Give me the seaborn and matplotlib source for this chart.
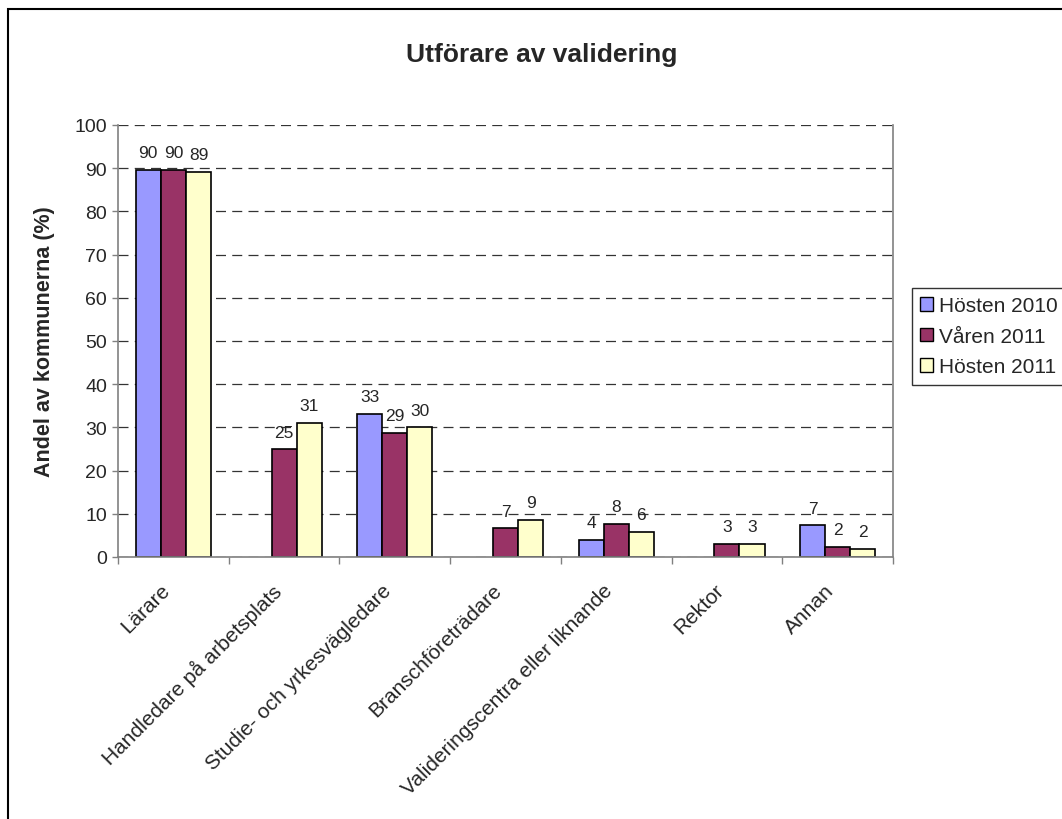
import numpy as np
import pandas as pd
import seaborn as sns
import matplotlib.pyplot as plt
import matplotlib.transforms as mtransforms
from matplotlib.patches import Rectangle

categories = ["Lärare", "Handledare på arbetsplats", "Studie- och yrkesvägledare",
              "Branschföreträdare", "Valideringscentra eller liknande", "Rektor", "Annan"]
series = ["Hösten 2010", "Våren 2011", "Hösten 2011"]
hosten_2010 = [89.6, np.nan, 33.1, np.nan, 3.9, np.nan, 7.3]
varen_2011 = [89.6, 24.9, 28.8, 6.6, 7.7, 3.1, 2.3]
hosten_2011 = [89.2, 31.1, 30.0, 8.6, 5.8, 3.1, 1.9]
colors = ["#9999FF", "#993366", "#FFFFCC"]

df = pd.DataFrame({
    "kategori": categories * 3,
    "serie": [s for s in series for _ in categories],
    "andel": hosten_2010 + varen_2011 + hosten_2011,
})

sns.set_style("white")
plt.rcParams['font.family'] = ['Liberation Sans', 'DejaVu Sans']

fig = plt.figure(figsize=(10.62, 8.2), dpi=100)
ax = fig.add_axes([118/1062, 1-558/820, 775/1062, 432/820])

sns.barplot(data=df, x="kategori", y="andel", hue="serie", order=categories,
            hue_order=series, palette=colors, width=0.68, edgecolor="black",
            linewidth=1.2, saturation=1, ax=ax, legend=False)

for c in ax.containers:
    ax.bar_label(c, fmt="%.0f", padding=7, fontsize=12.5)

ax.set_ylim(0, 100)
ax.set_xlim(-0.5, len(categories) - 0.5)
ax.set_yticks(range(0, 101, 10))
ax.tick_params(axis="y", labelsize=14, length=4, width=1, color="#808080", left=True, pad=4)
ax.yaxis.grid(True, linestyle=(0, (8, 5)), color="#333333", linewidth=0.9)
ax.set_axisbelow(True)

# category boundary ticks like Excel
ax.set_xticks(np.arange(len(categories)))
ax.set_xticks(np.arange(-0.5, len(categories), 1), minor=True)
ax.tick_params(axis="x", which="major", length=0, labelsize=15, pad=8)
ax.tick_params(axis="x", which="minor", length=5, width=1, color="#808080", bottom=True)
shift = mtransforms.ScaledTranslation(-0.13, -0.12, fig.dpi_scale_trans)
for lab in ax.get_xticklabels():
    lab.set_rotation(45)
    lab.set_ha("right")
    lab.set_rotation_mode("anchor")
    lab.set_transform(lab.get_transform() + shift)

for side in ["left", "right", "bottom"]:
    ax.spines[side].set_color("#808080")
    ax.spines[side].set_linewidth(1.2)
ax.spines["top"].set_visible(False)

ax.set_xlabel("")
ax.set_ylabel("")
fig.text(45/1062, 1-342/820, "Andel av kommunerna (%)", rotation=90, ha="center",
         va="center", fontsize=15.5, fontweight="bold")
fig.text(542/1062, 1-55/820, "Utförare av validering", ha="center", va="center",
         fontsize=19, fontweight="bold")

handles = [Rectangle((0, 0), 1, 1, facecolor=c, edgecolor="black", linewidth=1) for c in colors]
leg = fig.legend(handles, series, loc="upper left", bbox_to_anchor=(912/1062, 1-289/820),
                 frameon=True, fancybox=False, edgecolor="black", fontsize=15,
                 handlelength=0.6, handleheight=0.6, handletextpad=0.3,
                 labelspacing=0.55, borderpad=0.4, borderaxespad=0)
leg.get_frame().set_linewidth(1)

fig.patches.append(Rectangle((8/1062, -0.1), 1.2, 1.1 - 10/820, transform=fig.transFigure,
                             fill=False, edgecolor="black", linewidth=1.5))

fig.savefig("out.png", dpi=100)
